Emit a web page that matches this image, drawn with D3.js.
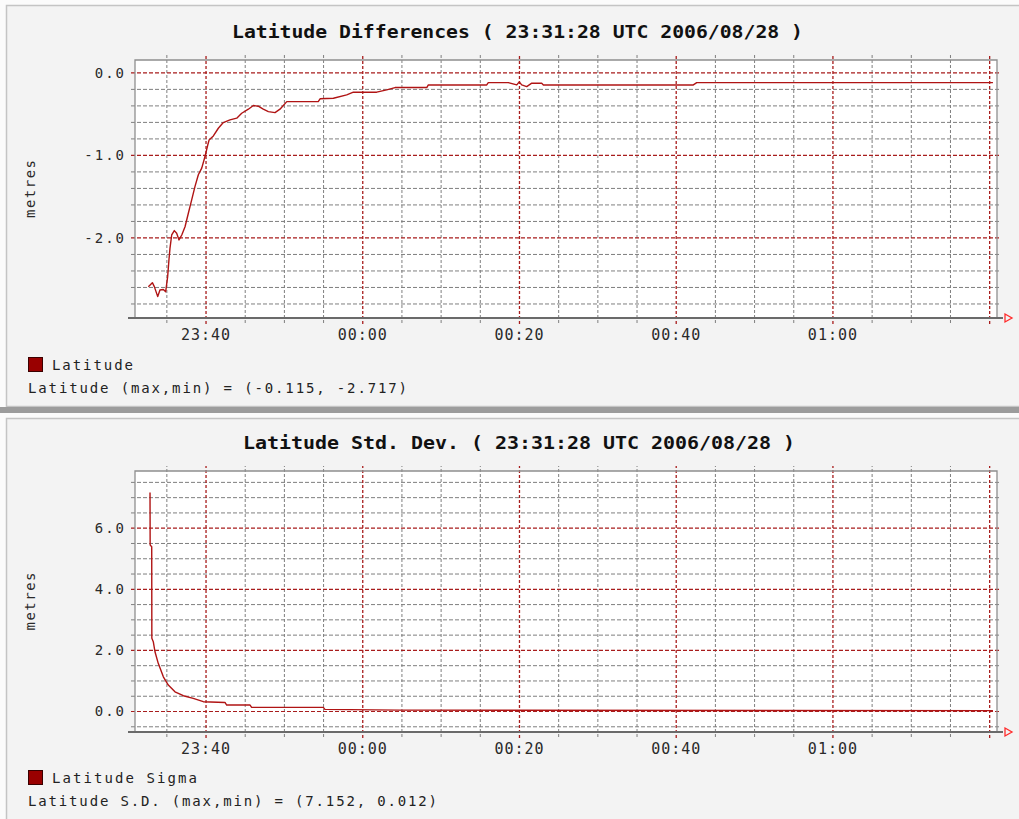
<!DOCTYPE html>
<html>
<head>
<meta charset="utf-8">
<script src="https://cdn.jsdelivr.net/npm/d3@7/dist/d3.min.js"></script>
<style>
  body { margin: 0; background: #ffffff; }
  svg { display: block; }
  text { font-family: "DejaVu Sans Mono", "Liberation Mono", monospace; }
</style>
</head>
<body>
<svg id="chart" width="1019" height="819"></svg>
<script>
// ---- Latitude differences (metres) ----
const latTimes = [
  "23:32:42","23:33:13","23:33:28","23:33:54","23:34:11","23:34:37","23:34:55","23:35:10",
  "23:35:20","23:35:28","23:35:41","23:36:01","23:36:19","23:36:37","23:36:58","23:37:23",
  "23:37:48","23:38:14","23:38:39","23:39:05","23:39:31","23:39:56","23:40:17","23:40:27",
  "23:41:00","23:41:38","23:42:16","23:43:07","23:43:59","23:44:37","23:45:28","23:46:06",
  "23:46:44","23:47:22","23:48:01","23:48:52","23:49:30","23:50:22","23:52:41","23:54:23",
  "23:54:37","23:56:19","23:58:01","23:58:52","00:01:51","00:03:07","00:04:11","00:08:14",
  "00:08:26","00:15:53","00:16:05","00:18:38","00:19:43","00:20:02","00:20:21","00:20:59",
  "00:21:38","00:22:54","00:23:07","00:42:15","00:42:41","01:20:29"
];
const latValues = [
  -2.596,-2.548,-2.596,-2.717,-2.636,-2.630,-2.657,-2.475,
  -2.270,-2.130,-1.970,-1.917,-1.950,-2.030,-1.970,-1.870,
  -1.710,-1.545,-1.384,-1.240,-1.160,-1.020,-0.880,-0.820,
  -0.770,-0.677,-0.608,-0.576,-0.555,-0.495,-0.446,-0.402,
  -0.410,-0.446,-0.475,-0.487,-0.446,-0.354,-0.354,-0.354,
  -0.320,-0.313,-0.273,-0.240,-0.240,-0.212,-0.184,-0.184,
  -0.152,-0.152,-0.124,-0.124,-0.152,-0.115,-0.152,-0.172,
  -0.131,-0.131,-0.152,-0.152,-0.124,-0.124
];

// ---- Latitude sigma (metres) ----
const sigTimes = [
  "23:32:55","23:32:56","23:33:08","23:33:09","23:33:20","23:33:33","23:33:58","23:34:37",
  "23:35:15","23:36:06","23:37:10","23:38:26","23:39:43","23:42:29","23:42:42","23:45:41",
  "23:45:53","23:55:02","23:55:14","00:04:48","01:20:29"
];
const sigValues = [
  7.152,5.430,5.380,2.380,2.270,1.940,1.560,1.120,
  0.850,0.630,0.500,0.415,0.305,0.280,0.196,0.196,
  0.120,0.120,0.055,0.030,0.012
];

const xTickLabels = ["23:40","00:00","00:20","00:40","01:00"];
const latMajorTicks = [0, -1, -2];
const sigMajorTicks = [0, 2, 4, 6];

const titles = [
  "Latitude Differences ( 23:31:28 UTC 2006/08/28 )",
  "Latitude Std. Dev. ( 23:31:28 UTC 2006/08/28 )"
];
const legendNames = ["Latitude", "Latitude Sigma"];
const legendStats = [
  "Latitude (max,min) = (-0.115, -2.717)",
  "Latitude S.D. (max,min) = (7.152, 0.012)"
];

// Times before noon belong to the following day
function parseTime(s) {
  const [h, m, sec = 0] = s.split(":").map(Number);
  return new Date(Date.UTC(2006, 7, h < 12 ? 29 : 28, h, m, sec));
}
const t0 = parseTime("23:31:00");
const t1 = parseTime("01:21:00");

const svg = d3.select("#chart");

// Page frame
svg.append("rect").attr("x", 0).attr("y", 0).attr("width", 1019).attr("height", 819).attr("fill", "#fbfbfb");
svg.append("rect").attr("x", 6.5).attr("y", 5.5).attr("width", 1020).attr("height", 401)
  .attr("fill", "#f3f3f3").attr("stroke", "#c4c4c4").attr("stroke-width", 1.5);
svg.append("rect").attr("x", 0).attr("y", 407).attr("width", 1019).attr("height", 6).attr("fill", "#9c9c9c");
svg.append("rect").attr("x", 6.5).attr("y", 418.5).attr("width", 1020).attr("height", 402)
  .attr("fill", "#f3f3f3").attr("stroke", "#c4c4c4").attr("stroke-width", 1.5);

const panels = [
  {
    times: latTimes, values: latValues, majors: latMajorTicks,
    minors: d3.range(-14, 1).map(i => +(i * 0.2).toFixed(1)),
    domain: [-2.976, 0.15], plot: { x0: 135, x1: 997, y0: 60, y1: 318 },
    title: titles[0], titleY: 38, titleX: 232, titleW: 571,
    legendY: 357, legendName: legendNames[0], nameW: 81, stats: legendStats[0], statsW: 379
  },
  {
    times: sigTimes, values: sigValues, majors: sigMajorTicks,
    minors: d3.range(-1, 16).map(i => i * 0.5),
    domain: [-0.687, 7.856], plot: { x0: 135, x1: 997, y0: 471, y1: 732 },
    title: titles[1], titleY: 449, titleX: 243, titleW: 552,
    legendY: 770, legendName: legendNames[1], nameW: 145, stats: legendStats[1], statsW: 409
  }
];

const fmt = v => d3.format(".1f")(v).replace("\u2212", "-");
const redGrid = "#a81d1d";
const grayGrid = "#7f7f7f";

panels.forEach(p => {
  const { x0, x1, y0, y1 } = p.plot;
  const w = x1 - x0, h = y1 - y0;
  const x = d3.scaleUtc().domain([t0, t1]).range([x0, x1]);
  const y = d3.scaleLinear().domain(p.domain).range([y1, y0]);

  const g = svg.append("g");

  // Title
  g.append("text").attr("x", p.titleX).attr("y", p.titleY)
    .attr("font-size", 17).attr("font-weight", "bold").attr("fill", "#111")
    .attr("textLength", p.titleW).attr("lengthAdjust", "spacingAndGlyphs")
    .text(p.title);

  // Plot background
  g.append("rect").attr("x", x0).attr("y", y0).attr("width", w).attr("height", h).attr("fill", "#ffffff");

  // Time grid: every 5 minutes, heavier every 20 minutes
  const allMinutes = d3.utcMinute.every(5).range(t0, t1);
  const isMajorT = d => d.getUTCMinutes() % 20 === 0;
  const vMinor = g.append("g").attr("transform", `translate(0,${y1 + 5})`)
    .call(d3.axisBottom(x).tickValues(allMinutes.filter(d => !isMajorT(d))).tickSize(-(h + 10)).tickFormat(""));
  vMinor.select(".domain").remove();
  vMinor.selectAll("line").attr("stroke", grayGrid).attr("stroke-dasharray", "3,2");

  // Value grid
  const majorSet = new Set(p.majors.map(v => v.toFixed(1)));
  const hMinor = g.append("g").attr("transform", `translate(${x0 - 4},0)`)
    .call(d3.axisLeft(y).tickValues(p.minors.filter(v => !majorSet.has(v.toFixed(1)))).tickSize(-(w + 8)).tickFormat(""));
  hMinor.select(".domain").remove();
  hMinor.selectAll("line").attr("stroke", grayGrid).attr("stroke-dasharray", "4,2");

  const hMajor = g.append("g").attr("transform", `translate(${x0 - 4},0)`)
    .call(d3.axisLeft(y).tickValues(p.majors).tickSize(-(w + 8)).tickFormat(""));
  hMajor.select(".domain").remove();
  hMajor.selectAll("line").attr("stroke", redGrid).attr("stroke-width", 1.2).attr("stroke-dasharray", "4,2");

  const vMajor = g.append("g").attr("transform", `translate(0,${y1 + 6})`)
    .call(d3.axisBottom(x).tickValues(allMinutes.filter(isMajorT)).tickSize(-(h + 11)).tickFormat(""));
  vMajor.select(".domain").remove();
  vMajor.selectAll("line").attr("stroke", redGrid).attr("stroke-width", 1.3).attr("stroke-dasharray", "3,2");

  // Plot frame
  g.append("path").attr("d", `M${x0},${y1}V${y0}H${x1}V${y1}`)
    .attr("fill", "none").attr("stroke", "#8f8f8f").attr("stroke-width", 1.3);
  g.append("line").attr("x1", x0 - 7).attr("x2", x1 + 6).attr("y1", y1).attr("y2", y1)
    .attr("stroke", "#6a6a6a").attr("stroke-width", 2);
  g.append("path")
    .attr("d", `M${x1 + 8},${y1 - 4}L${x1 + 15},${y1}L${x1 + 8},${y1 + 4}Z`)
    .attr("fill", "none").attr("stroke", "#ff2a2a").attr("stroke-width", 1.3);

  // Axis labels
  const xLabels = g.append("g").attr("transform", `translate(0,${y1})`)
    .call(d3.axisBottom(x)
      .tickValues(xTickLabels.map(parseTime))
      .tickFormat(d3.utcFormat("%H:%M"))
      .tickSize(0).tickPadding(11));
  xLabels.select(".domain").remove();
  xLabels.selectAll("text").attr("font-family", "DejaVu Sans Mono, monospace")
    .attr("font-size", 15).attr("fill", "#2a2a2a").attr("letter-spacing", 1);

  const yLabels = g.append("g").attr("transform", `translate(${x0},0)`)
    .call(d3.axisLeft(y).tickValues(p.majors).tickFormat(fmt).tickSize(0).tickPadding(9));
  yLabels.select(".domain").remove();
  yLabels.selectAll("text").attr("font-family", "DejaVu Sans Mono, monospace")
    .attr("font-size", 14).attr("fill", "#2a2a2a").attr("letter-spacing", 2).attr("dy", "0.35em");

  g.append("text")
    .attr("transform", `translate(35,${(y0 + y1) / 2}) rotate(-90)`)
    .attr("text-anchor", "middle").attr("font-size", 14).attr("fill", "#2a2a2a")
    .attr("textLength", 58).attr("lengthAdjust", "spacing")
    .text("metres");

  // Data line
  const pts = p.times.map((t, i) => [parseTime(t), p.values[i]]);
  g.append("path").datum(pts)
    .attr("fill", "none").attr("stroke", "#b01414").attr("stroke-width", 1.4)
    .attr("stroke-linejoin", "round")
    .attr("d", d3.line().x(d => x(d[0])).y(d => y(d[1])));

  // Legend
  g.append("rect").attr("x", 28.5).attr("y", p.legendY + 0.5).attr("width", 14).attr("height", 14)
    .attr("fill", "#990000").attr("stroke", "#3a0000");
  g.append("text").attr("x", 52).attr("y", p.legendY + 13)
    .attr("font-size", 14).attr("fill", "#222")
    .attr("textLength", p.nameW).attr("lengthAdjust", "spacing")
    .text(p.legendName);
  g.append("text").attr("x", 28).attr("y", p.legendY + 36)
    .attr("font-size", 14).attr("fill", "#222")
    .attr("textLength", p.statsW).attr("lengthAdjust", "spacing")
    .text(p.stats);
});
</script>
</body>
</html>
